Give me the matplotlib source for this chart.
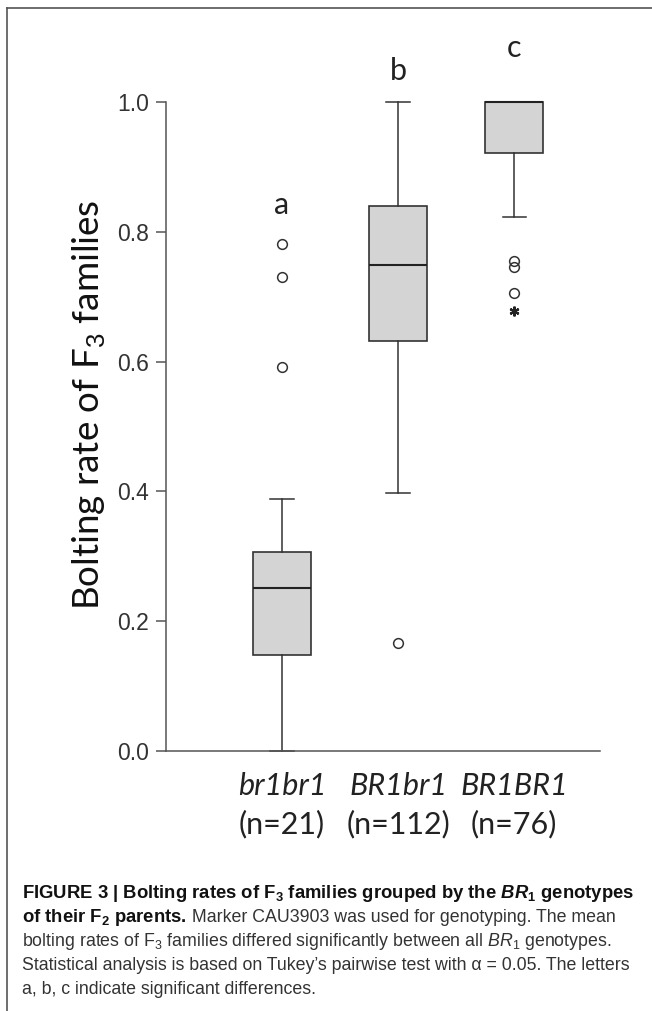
import numpy as np
import matplotlib.pyplot as plt
from matplotlib.lines import Line2D

plt.rcParams['mathtext.fontset'] = 'custom'
plt.rcParams['mathtext.rm'] = 'Liberation Sans'
plt.rcParams['mathtext.it'] = 'Liberation Sans:italic'
plt.rcParams['mathtext.bf'] = 'Liberation Sans:bold'
plt.rcParams['mathtext.bfit'] = 'Liberation Sans:italic:bold'

genotypes = ['br1br1', 'BR1br1', 'BR1BR1']
counts = [21, 112, 76]
letters = ['a', 'b', 'c']
letter_y = [0.842, 1.048, 1.083]
q1 = [0.148, 0.631, 0.922]
med = [0.251, 0.749, 1.0]
q3 = [0.306, 0.840, 1.0]
whislo = [0.0, 0.398, 0.823]
whishi = [0.389, 1.0, 1.0]
outliers = [[0.591, 0.731, 0.781], [0.166], [0.755, 0.745, 0.706]]
extremes = [[], [], [0.678]]
yticks = [0.0, 0.2, 0.4, 0.6, 0.8, 1.0]

W, H = 652, 1011
fig = plt.figure(figsize=(W / 100, H / 100), dpi=100)
ax = fig.add_axes([166 / W, 1 - 751 / H, (600 - 166) / W, (751 - 102) / H])

stats = []
for i in range(3):
    stats.append(dict(med=med[i], q1=q1[i], q3=q3[i], whislo=whislo[i],
                      whishi=whishi[i], fliers=outliers[i]))
pos = np.arange(1, 4)
bp = ax.bxp(stats, positions=pos, widths=0.5, capwidths=0.2, patch_artist=True,
            boxprops=dict(facecolor='#d4d4d4', edgecolor='#333333', linewidth=1.2),
            whiskerprops=dict(color='#333333', linewidth=1.1),
            capprops=dict(color='#333333', linewidth=1.1),
            medianprops=dict(color='#222222', linewidth=1.5),
            flierprops=dict(marker='o', markerfacecolor='none', markeredgecolor='#333333',
                            markersize=7, markeredgewidth=1.1))
for k in bp:
    for a in bp[k]:
        a.set_clip_on(False)
for i in range(3):
    if extremes[i]:
        ax.plot([pos[i]] * len(extremes[i]), extremes[i], ls='none', marker=(6, 2, 0),
                color='#222222', ms=7, mew=1.6, clip_on=False)

for i in range(3):
    ax.text(pos[i], letter_y[i], letters[i], ha='center', va='center',
            family='Lato', fontsize=22, color='#222222', clip_on=False)
    ax.text(pos[i], -0.054, genotypes[i], transform=ax.get_xaxis_transform(),
            ha='center', va='center', family='Lato', style='italic', fontsize=22,
            color='#222222')
    ax.text(pos[i], -0.113, '(n=%d)' % counts[i], transform=ax.get_xaxis_transform(),
            ha='center', va='center', family='Lato', fontsize=22, color='#222222')

ax.set_xlim(0, 3.74)
ax.set_ylim(0, 1)
ax.set_xticks([])
ax.set_yticks(yticks)
ax.set_yticklabels(['%.1f' % v for v in yticks], family='Liberation Sans', fontsize=16.5,
                   color='#333333')
ax.tick_params(axis='y', length=7, width=1.1, color='#555555', pad=5)
for s in ['top', 'right']:
    ax.spines[s].set_visible(False)
for s in ['left', 'bottom']:
    ax.spines[s].set_color('#555555')
    ax.spines[s].set_linewidth(1.1)

fig.text(89 / W, 1 - 405 / H, 'Bolting rate of F$_3$ families', rotation=90,
         ha='center', va='center', family='Lato', fontsize=26.5, color='#111111')

# frame around the panel
fig.add_artist(Line2D([7 / W, 7 / W], [0, 1 - 8 / H], color='#555555', lw=1.2))
fig.add_artist(Line2D([7 / W, 1], [1 - 8 / H, 1 - 8 / H], color='#555555', lw=1.2))

# caption
cap_lines = [
    [(r'FIGURE 3 | Bolting rates of F$_\mathbf{3}$ families grouped by the $\mathbfit{BR}_\mathbf{1}$ genotypes', 'bold')],
    [(r'of their F$_\mathbf{2}$ parents.', 'bold'),
     (' Marker CAU3903 was used for genotyping. The mean', 'normal')],
    [('bolting rates of F$_3$ families differed significantly between all $BR_1$ genotypes.', 'normal')],
    ['Statistical analysis is based on Tukey\u2019s pairwise test with \u03b1 = 0.05. The letters'],
    ['a, b, c indicate significant differences.'],
]
cap_y = [893, 917, 942, 966, 990]
renderer = fig.canvas.get_renderer()
for line, yy in zip(cap_lines, cap_y):
    x = 22
    for seg in line:
        if isinstance(seg, str):
            seg = (seg, 'normal')
        bold = seg[1] == 'bold'
        t = fig.text(x / W, 1 - yy / H, seg[0], ha='left', va='center',
                     family='Liberation Sans', fontsize=13.3 if bold else 12.8,
                     weight=seg[1], color='#111111' if bold else '#333333')
        bb = t.get_window_extent(renderer)
        x = bb.x1

fig.savefig('out.png', dpi=100)
